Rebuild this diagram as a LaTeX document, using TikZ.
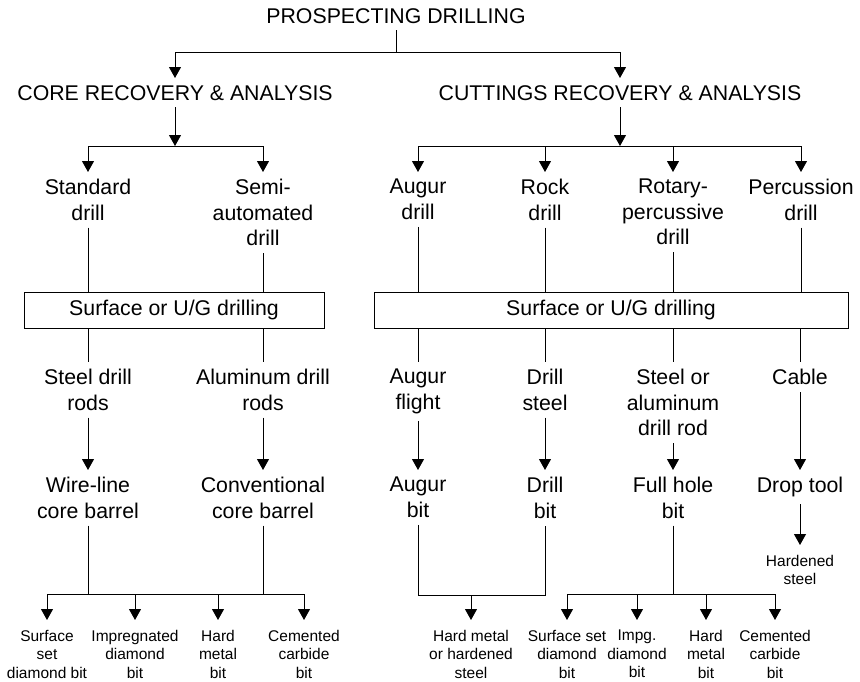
\documentclass[tikz,border=0pt]{standalone}
\usepackage{fontspec}
\setmainfont{Liberation Sans}
\usetikzlibrary{arrows.meta}
\tikzstyle{txt} = [align=center, anchor=north, inner sep=7pt, font=\fontsize{21.3}{25.5}\selectfont]
\tikzstyle{bittxt} = [align=center, anchor=north, inner xsep=2pt, inner ysep=10pt, font=\fontsize{15.5}{18.3}\selectfont]
\tikzstyle{drillbox} = [draw, line width=1pt, minimum height=36pt, inner sep=0pt, font=\fontsize{21.3}{25.5}\selectfont]
\tikzstyle{arr} = [-{Triangle[length=11pt,width=12pt]}, line width=1pt]
\tikzstyle{ln} = [-, line width=1pt]
\begin{document}
\begin{tikzpicture}[x=1pt,y=-1pt]
                        \useasboundingbox (0,0) rectangle (860,681);
                        \node[txt](pd) at (396,1) {PROSPECTING DRILLING};
                        \node[txt](core) at (175,78) {CORE RECOVERY \& ANALYSIS};
                        \node[txt](cut) at (620,78) {CUTTINGS RECOVERY \& ANALYSIS};

                        \node[txt](std) at (88,172) {Standard\\drill};
                        \node[txt](semi) at (263,172) {Semi-\\automated\\drill};
                        \node[txt](aug) at (418,172) {Augur\\drill};
                        \node[txt](rock) at (545,172) {Rock\\drill};
                        \node[txt](rot) at (673,172) {Rotary-\\percussive\\drill};
                        \node[txt](perc) at (801,172) {Percussion\\drill};

                        \node[drillbox, minimum width=300pt](box1) at (174,310) {Surface or U/G drilling};
                        \node[drillbox, minimum width=474pt](box2) at (611,310) {Surface or U/G drilling};

                        \node[txt](steel) at (88,362) {Steel drill\\rods};
                        \node[txt](alum) at (263,362) {Aluminum drill\\rods};
                        \node[txt](augf) at (418,362) {Augur\\flight};
                        \node[txt](dsteel) at (545,362) {Drill\\steel};
                        \node[txt](sora) at (673,362) {Steel or\\aluminum\\drill rod};
                        \node[txt](cable) at (800,362) {Cable};

                        \node[txt](wire) at (88,470) {Wire-line\\core barrel};
                        \node[txt](conv) at (263,470) {Conventional\\core barrel};
                        \node[txt](augb) at (418,470) {Augur\\bit};
                        \node[txt](dbit) at (545,470) {Drill\\bit};
                        \node[txt](fhb) at (673,470) {Full hole\\bit};
                        \node[txt](drop) at (800,470) {Drop tool};

                        \node[bittxt](hard) at (800,545) {Hardened\\steel};
                        \node[bittxt](sdb) at (47,620) {Surface\\set\\diamond bit};
                        \node[bittxt](idb) at (135,620) {Impregnated\\diamond\\bit};
                        \node[bittxt](hmb) at (218,620) {Hard\\metal\\bit};
                        \node[bittxt](ccb) at (304,620) {Cemented\\carbide\\bit};
                        \node[bittxt](hmo) at (471,620) {Hard metal\\or hardened\\steel};
                        \node[bittxt](ssd) at (567,620) {Surface set\\diamond\\bit};
                        \node[bittxt](impg) at (637,620) {Impg.\\diamond\\bit};
                        \node[bittxt](hm2) at (706,620) {Hard\\metal\\bit};
                        \node[bittxt](cc2) at (775,620) {Cemented\\carbide\\bit};

                        \coordinate (jt) at (396,52);
                        \coordinate (jc) at (175,146);
                        \coordinate (jk) at (620,146);
                        \coordinate (jl) at (175,594);
                        \coordinate (jh) at (471,595);
                        \coordinate (jf) at (673,594);

                        \draw[ln](pd.south) -- (jt);
                        \draw[arr](jt) -| (core.north);
                        \draw[arr](jt) -| (cut.north);

                        \draw[arr](core.south) -- (jc);
                        \draw[arr](jc) -| (std.north);
                        \draw[arr](jc) -| (semi.north);
                        \draw[arr](cut.south) -- (jk);
                        \foreach \n in {aug,rock,rot,perc}
                            \draw[arr](jk) -| (\n.north);

                        \foreach \n in {std,semi}
                            \draw[ln](\n.south) -- (\n.south |- box1.north);
                        \foreach \n in {aug,rock,rot,perc}
                            \draw[ln](\n.south) -- (\n.south |- box2.north);
                        \foreach \n in {steel,alum}
                            \draw[ln](\n.north |- box1.south) -- (\n.north);
                        \foreach \n in {augf,dsteel,sora,cable}
                            \draw[ln](\n.north |- box2.south) -- (\n.north);

                        \draw[arr](steel.south) -- (wire.north);
                        \draw[arr](alum.south) -- (conv.north);
                        \draw[arr](augf.south) -- (augb.north);
                        \draw[arr](dsteel.south) -- (dbit.north);
                        \draw[arr](sora.south) -- (fhb.north);
                        \draw[arr](cable.south) -- (drop.north);
                        \draw[arr](drop.south) -- (hard.north);

                        \draw[ln](wire.south) -- (wire.south |- jl);
                        \draw[ln](conv.south) -- (conv.south |- jl);
                        \draw[ln](sdb.north |- jl) -- (ccb.north |- jl);
                        \foreach \n in {sdb,idb,hmb,ccb}
                            \draw[arr](\n.north |- jl) -- (\n.north);

                        \draw[ln](augb.south) -- (augb.south |- jh) -- (dbit.south |- jh) -- (dbit.south);
                        \draw[arr](jh) -- (hmo.north);

                        \draw[ln](fhb.south) -- (jf);
                        \draw[ln](ssd.north |- jf) -- (cc2.north |- jf);
                        \foreach \n in {ssd,impg,hm2,cc2}
                            \draw[arr](\n.north |- jf) -- (\n.north);
                    \end{tikzpicture}
\end{document}
